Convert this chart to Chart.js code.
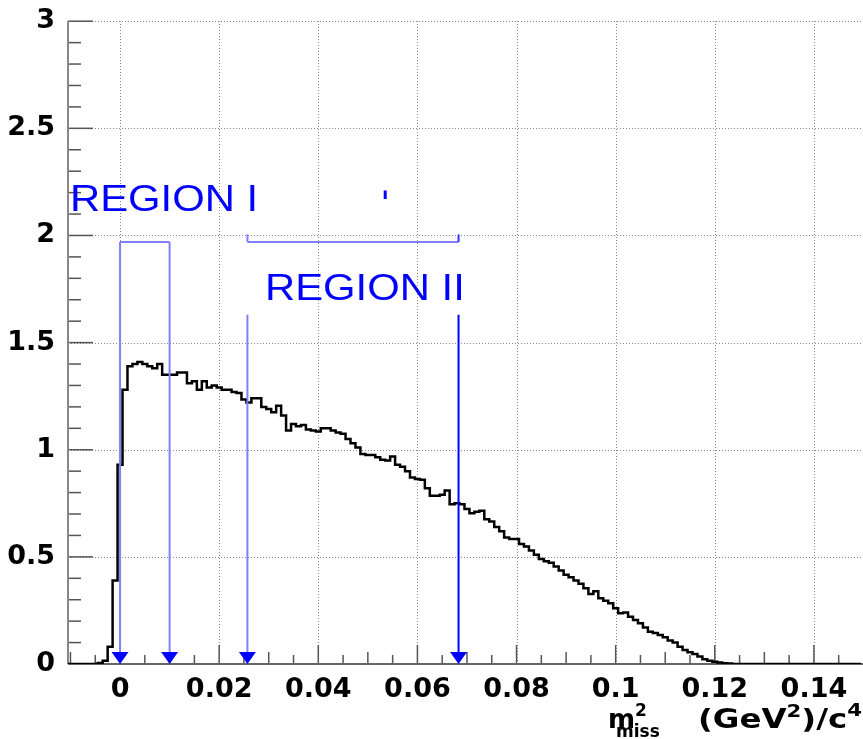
<!DOCTYPE html>
<html>
<head>
<meta charset="utf-8">
<script src="https://cdn.jsdelivr.net/npm/chart.js@4.4.1/dist/chart.umd.min.js"></script>
<style>
  html, body { margin: 0; padding: 0; background: #fff; }
</style>
</head>
<body>
<canvas id="chart" width="863" height="739"></canvas>
<script>
// histogram binning: 160 bins of 0.001 starting at -0.0105
const binStart = -0.0105;
const binWidth = 0.001;
const binValues = [
  0, 0, 0, 0, 0, 0, 0.005, 0.015, 0.08, 0.39,
  0.93, 1.28, 1.39, 1.40, 1.41, 1.40, 1.39, 1.38, 1.40, 1.35,
  1.35, 1.35, 1.36, 1.36, 1.31, 1.32, 1.28, 1.32, 1.29, 1.30,
  1.29, 1.28, 1.28, 1.27, 1.265, 1.235, 1.22, 1.24, 1.24, 1.20,
  1.19, 1.175, 1.205, 1.16, 1.09, 1.12, 1.11, 1.115, 1.095, 1.09,
  1.085, 1.10, 1.10, 1.09, 1.08, 1.075, 1.05, 1.03, 1.01, 0.98,
  0.975, 0.975, 0.965, 0.953, 0.95, 0.969, 0.93, 0.92, 0.90, 0.87,
  0.863, 0.86, 0.82, 0.785, 0.785, 0.79, 0.81, 0.745, 0.75, 0.745,
  0.723, 0.704, 0.71, 0.715, 0.676, 0.665, 0.639, 0.62, 0.59, 0.583,
  0.583, 0.56, 0.548, 0.53, 0.51, 0.49, 0.48, 0.473, 0.455, 0.436,
  0.416, 0.405, 0.39, 0.374, 0.354, 0.327, 0.34, 0.307, 0.295, 0.284,
  0.26, 0.237, 0.24, 0.221, 0.205, 0.19, 0.17, 0.151, 0.145, 0.135,
  0.125, 0.11, 0.10, 0.08, 0.065, 0.055, 0.047, 0.035, 0.022, 0.015,
  0.011, 0.007, 0.004, 0.002, 0, 0, 0, 0, 0, 0,
  0, 0, 0, 0, 0, 0, 0, 0, 0, 0,
  0, 0, 0, 0, 0, 0, 0, 0, 0, 0
];

const xTickValues = [0, 0.02, 0.04, 0.06, 0.08, 0.1, 0.12, 0.14];
const xTickLabels = ['0', '0.02', '0.04', '0.06', '0.08', '0.1', '0.12', '0.14'];
const yTickValues = [0, 0.5, 1, 1.5, 2, 2.5, 3];
const yTickLabels = ['0', '0.5', '1', '1.5', '2', '2.5', '3'];

// cut arrows
const cutPositions = [0, 0.01, 0.0257, 0.0683];
const cutTops = [1.97, 1.97, 1.63, 1.63];
const cutColors = ['#8080ff', '#8080ff', '#8080ff', '#0000ff'];

// region brackets and labels
const regionSpans = [[0, 0.01], [0.0257, 0.0683]];
const bracketLevel = 1.97;
const bracketTickTop = 2.005;
const regionLabels = ['REGION I', 'REGION II'];
const regionLabelX = [-0.0101, 0.02925];
const regionLabelY = [2.113, 1.70];
const strayMark = { x: 0.0535, y0: 2.17, y1: 2.21 };

const xMin = binStart;
const xMax = binStart + binValues.length * binWidth;

// step points at the bin lower edges + closing edge
const histPoints = binValues.map((v, i) => ({ x: binStart + i * binWidth, y: v }));
histPoints.push({ x: xMax, y: binValues[binValues.length - 1] });

const tickFont = { family: 'DejaVu Sans', size: 27, weight: 'bold' };

function seg(ctx, x1, y1, x2, y2) {
  ctx.beginPath();
  ctx.moveTo(x1, y1);
  ctx.lineTo(x2, y2);
  ctx.stroke();
}

const rootDecor = {
  id: 'rootDecor',
  beforeDatasetsDraw(chart) {
    const { ctx, chartArea: a, scales: { x, y } } = chart;
    ctx.save();
    // dotted grid
    ctx.strokeStyle = '#888';
    ctx.lineWidth = 1;
    ctx.setLineDash([1, 2]);
    xTickValues.forEach(v => {
      const px = Math.round(x.getPixelForValue(v)) + 0.5;
      seg(ctx, px, a.bottom, px, a.top);
    });
    yTickValues.slice(1).forEach(v => {
      const py = Math.round(y.getPixelForValue(v)) + 0.5;
      seg(ctx, a.left, py, a.right, py);
    });
    ctx.setLineDash([]);

    // inward ticks
    ctx.strokeStyle = '#555';
    ctx.lineWidth = 1.5;
    for (let i = 0; ; i++) {
      const v = Math.ceil(xMin / 0.005) * 0.005 + i * 0.005;
      if (v > xMax) break;
      const r = Math.round(v / 0.005);
      const len = r % 4 === 0 ? 19 : (r % 2 === 0 ? 12 : 9);
      const px = x.getPixelForValue(v);
      seg(ctx, px, a.bottom, px, a.bottom - len);
    }
    for (let i = 0; i <= 30; i++) {
      const v = i * 0.1;
      const len = i % 5 === 0 ? 25 : 13;
      const py = y.getPixelForValue(v);
      seg(ctx, a.left, py, a.left + len, py);
    }

    // axis lines
    ctx.lineWidth = 2;
    ctx.strokeStyle = '#888';
    seg(ctx, a.left, a.top, a.left, a.bottom);
    ctx.strokeStyle = '#666';
    seg(ctx, a.left, a.bottom, chart.width, a.bottom);
    ctx.restore();
  },
  afterDatasetsDraw(chart) {
    const { ctx, chartArea: a, scales: { x, y } } = chart;
    const y0 = y.getPixelForValue(0);
    ctx.save();

    // cut lines with arrow heads
    cutPositions.forEach((c, i) => {
      const px = x.getPixelForValue(c);
      ctx.strokeStyle = cutColors[i];
      ctx.lineWidth = 2;
      seg(ctx, px, y.getPixelForValue(cutTops[i]), px, y0 - 10);
      ctx.fillStyle = '#0000ff';
      ctx.beginPath();
      ctx.moveTo(px, y0);
      ctx.lineTo(px - 8.5, y0 - 12);
      ctx.lineTo(px + 8.5, y0 - 12);
      ctx.closePath();
      ctx.fill();
    });

    // brackets
    ctx.strokeStyle = '#8080ff';
    ctx.lineWidth = 2;
    const by = y.getPixelForValue(bracketLevel);
    regionSpans.forEach(([lo, hi], i) => {
      seg(ctx, x.getPixelForValue(lo), by, x.getPixelForValue(hi), by);
      if (i === 1) {
        const ty = y.getPixelForValue(bracketTickTop);
        seg(ctx, x.getPixelForValue(lo), by, x.getPixelForValue(lo), ty);
        ctx.strokeStyle = '#3030ff';
        seg(ctx, x.getPixelForValue(hi), by, x.getPixelForValue(hi), ty);
      }
    });

    // stray mark
    ctx.strokeStyle = '#0000ff';
    ctx.lineWidth = 3;
    seg(ctx, x.getPixelForValue(strayMark.x), y.getPixelForValue(strayMark.y0),
        x.getPixelForValue(strayMark.x), y.getPixelForValue(strayMark.y1));

    // region labels (ROOT text looks horizontally stretched)
    ctx.fillStyle = '#0000ff';
    ctx.font = "37px 'Liberation Sans', Arial, sans-serif";
    ctx.textBaseline = 'alphabetic';
    ctx.textAlign = 'left';
    regionLabels.forEach((t, i) => {
      ctx.save();
      ctx.translate(x.getPixelForValue(regionLabelX[i]), y.getPixelForValue(regionLabelY[i]));
      ctx.scale(1.13, 1);
      ctx.fillText(t, 0, 0);
      ctx.restore();
    });

    // axis title: m^2_miss (GeV^2)/c^4
    ctx.fillStyle = '#000';
    const base = a.bottom + 64;
    const big = "bold 26px 'DejaVu Sans'";
    const small = "bold 17px 'DejaVu Sans'";
    let cx = a.right - 253;
    ctx.font = big;
    ctx.fillText('m', cx, base);
    const mw = ctx.measureText('m').width;
    ctx.font = small;
    ctx.fillText('2', cx + mw, base - 12);
    ctx.fillText('miss', cx + 8, base + 9);

    const parts = [['(GeV', big, 0], ['2', small, -11], [')/c', big, 0], ['4', small, -12]];
    let total = 0;
    parts.forEach(p => { ctx.font = p[1]; total += ctx.measureText(p[0]).width; });
    const groupWidth = 164;
    ctx.save();
    ctx.translate(chart.width - 1 - groupWidth, base);
    ctx.scale(groupWidth / total, 1);
    cx = 0;
    parts.forEach(p => {
      ctx.font = p[1];
      ctx.fillText(p[0], cx, p[2]);
      cx += ctx.measureText(p[0]).width;
    });
    ctx.restore();
    ctx.restore();
  }
};

new Chart(document.getElementById('chart'), {
  type: 'line',
  data: {
    datasets: [{
      data: histPoints,
      stepped: true,
      borderColor: '#000',
      borderWidth: 2.5,
      pointRadius: 0,
      fill: false
    }]
  },
  options: {
    responsive: false,
    animation: false,
    devicePixelRatio: 1,
    layout: { padding: { top: 18, right: 2, left: 0, bottom: 0 } },
    plugins: { legend: { display: false }, tooltip: { enabled: false } },
    scales: {
      x: {
        type: 'linear',
        min: xMin,
        max: xMax,
        afterBuildTicks: s => { s.ticks = xTickValues.map(v => ({ value: v })); },
        afterFit: s => { s.height = 75; },
        grid: { display: false },
        border: { display: false },
        ticks: {
          callback: (v, i) => xTickLabels[i],
          font: tickFont,
          color: '#000',
          padding: 2,
          maxRotation: 0,
          autoSkip: false
        }
      },
      y: {
        type: 'linear',
        min: 0,
        max: 3,
        afterBuildTicks: s => { s.ticks = yTickValues.map(v => ({ value: v })); },
        afterFit: s => { s.width = 68; },
        grid: { display: false },
        border: { display: false },
        ticks: {
          callback: (v, i) => yTickLabels[i],
          font: tickFont,
          color: '#000',
          padding: 5
        }
      }
    }
  },
  plugins: [rootDecor]
});
</script>
</body>
</html>
